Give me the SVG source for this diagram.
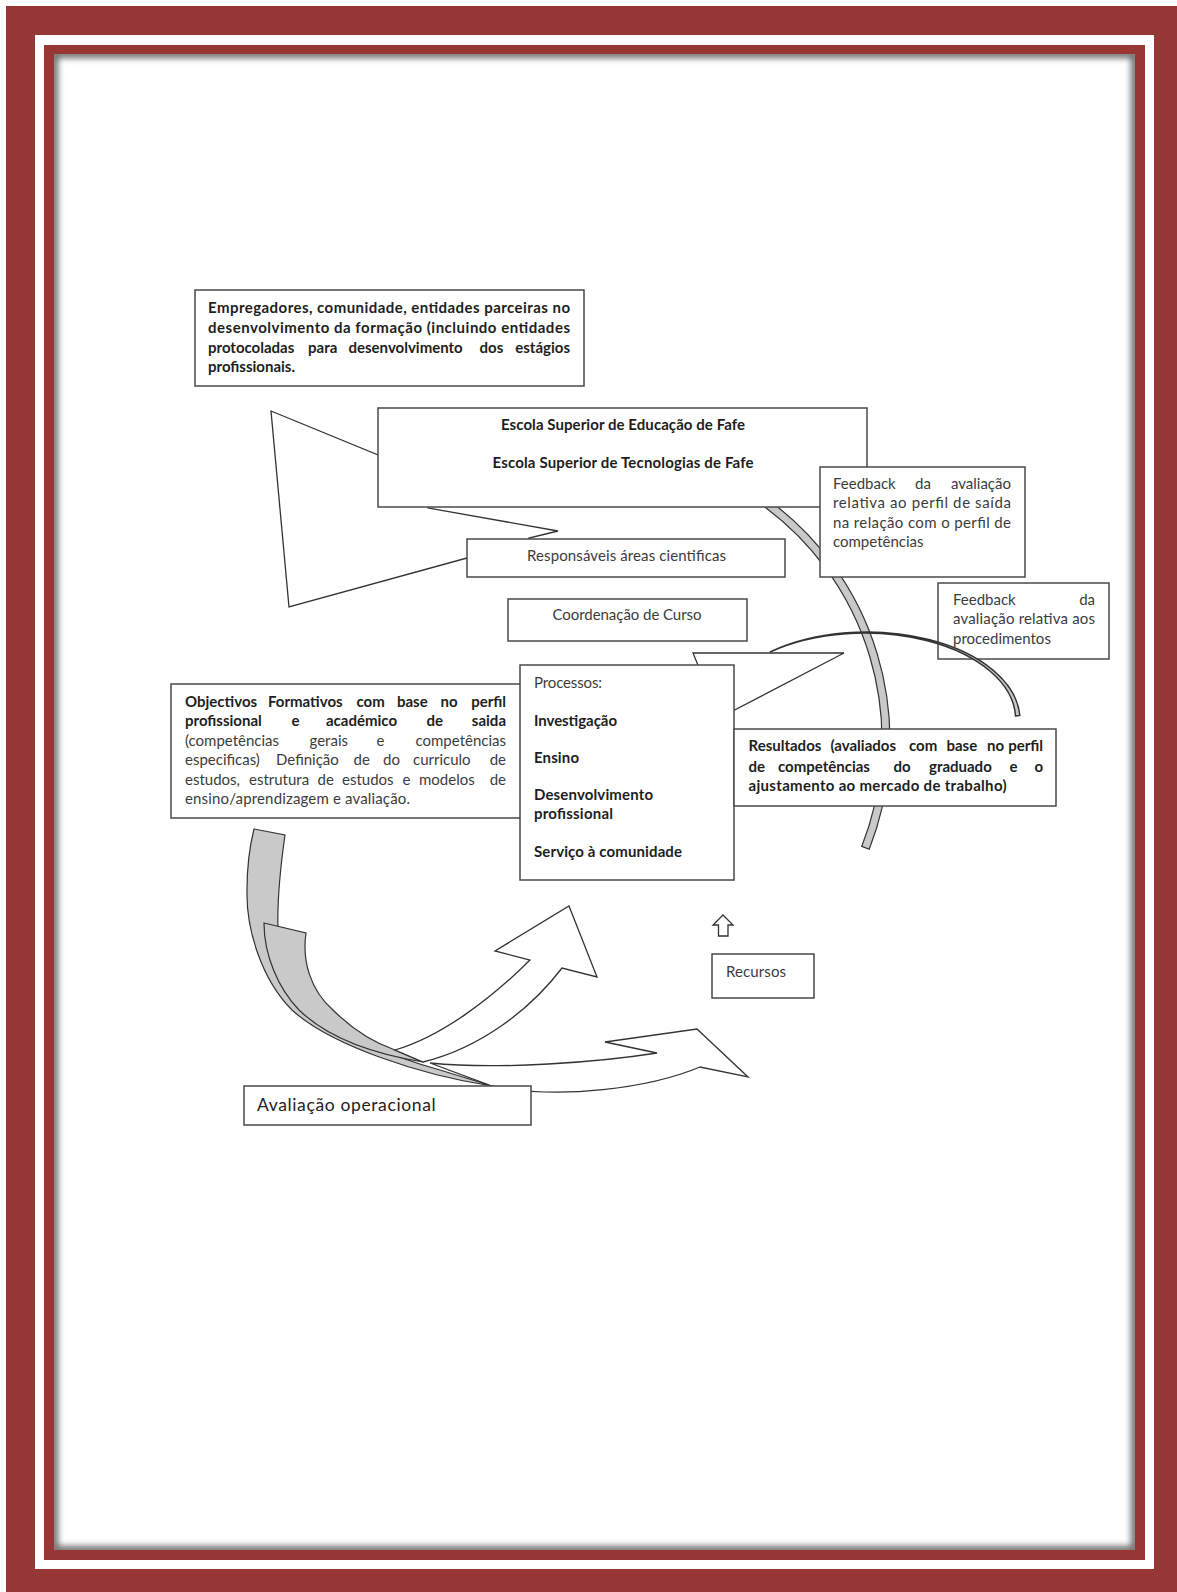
<svg xmlns="http://www.w3.org/2000/svg" width="1177" height="1592" viewBox="0 0 1177 1592">
<style>
.box{fill:#fff;stroke:#4a4a4a;stroke-width:1.5}
.ln{fill:#fff;stroke:#333;stroke-width:1.3;stroke-linejoin:miter}
.gb{fill:#c9c9c9;stroke:#333;stroke-width:1.2}
.b{font-family:Lato,"Liberation Sans",sans-serif;font-size:15px;font-weight:bold;fill:#1e1e1e}
.n{font-family:Lato,"Liberation Sans",sans-serif;font-size:15px;fill:#3c3c3c}
.e{text-anchor:end}
</style>
<defs>
<clipPath id="inner"><rect x="54" y="54" width="1081" height="1496"/></clipPath>
<filter id="blur" x="-5%" y="-5%" width="110%" height="110%"><feGaussianBlur stdDeviation="3"/></filter>
</defs>
<g id="frame">
<rect x="6" y="6" width="1171" height="1586" fill="#963635"/>
<rect x="35" y="35" width="1119" height="1534" fill="#fff"/>
<rect x="44" y="45" width="1101" height="1515" fill="#963635"/>
<rect x="54" y="54" width="1081" height="1496" fill="#fff"/>
<g clip-path="url(#inner)"><rect x="54" y="54" width="1081" height="1496" fill="none" stroke="#6a6a6a" stroke-width="8" filter="url(#blur)"/></g>
</g>
<g id="connectors">
<polygon class="ln" points="271,411 400,464 428,508 558,531 529,538 530,545 467,558 289,607"/>
<path class="gb" d="M763,496 A298,298 0 0 1 869.2,849.2 L861.8,846.3 A290,290 0 0 0 758.5,502.5 Z"/>
</g>
<g id="escola">
<rect class="box" x="378" y="408" width="489" height="99"/>
<text class="b" x="623" y="430" text-anchor="middle" textLength="244">Escola Superior de Educação de Fafe</text>
<text class="b" x="623" y="468" text-anchor="middle" textLength="261">Escola Superior de Tecnologias de Fafe</text>
</g>
<g id="empregadores">
<rect class="box" x="195" y="290" width="389" height="96"/>
<text class="b" x="208" y="313" textLength="362">Empregadores, comunidade, entidades parceiras no</text>
<text class="b" x="208" y="333" textLength="362">desenvolvimento da formação (incluindo entidades</text>
<text class="b" y="352.5"><tspan x="208">protocoladas</tspan><tspan x="308">para</tspan><tspan x="348.5">desenvolvimento</tspan><tspan x="479.5">dos</tspan></text>
<text class="b e" x="570" y="352.5">estágios</text>
<text class="b" x="208" y="372">profissionais.</text>
</g>
<g id="responsaveis">
<rect class="box" x="467" y="539" width="318" height="38"/>
<text class="n" x="626.5" y="561" text-anchor="middle" textLength="199">Responsáveis áreas cientificas</text>
</g>
<g id="coordenacao">
<rect class="box" x="508" y="599" width="239" height="42"/>
<text class="n" x="627" y="620" text-anchor="middle" textLength="149">Coordenação de Curso</text>
</g>
<g id="feedback1">
<rect class="box" x="820" y="467" width="205" height="110"/>
<text class="n" y="488.5"><tspan x="833">Feedback</tspan><tspan x="915">da</tspan></text>
<text class="n e" x="1011" y="488.5">avaliação</text>
<text class="n" x="833" y="508" textLength="178">relativa ao perfil de saída</text>
<text class="n" x="833" y="527.5" textLength="178">na relação com o perfil de</text>
<text class="n" x="833" y="547">competências</text>
</g>
<g id="pointer">
<polygon class="ln" points="693,653 844,653 700,728 702,675"/>
</g>
<g id="objectivos">
<rect class="box" x="171" y="684" width="350" height="134"/>
<text class="b" y="706.5"><tspan x="185">Objectivos</tspan><tspan x="268">Formativos</tspan><tspan x="356.5">com</tspan><tspan x="397">base</tspan><tspan x="440.5">no</tspan></text>
<text class="b e" x="506" y="706.5">perfil</text>
<text class="b" y="725.5"><tspan x="185">profissional</tspan><tspan x="291.5">e</tspan><tspan x="326">académico</tspan><tspan x="426.5">de</tspan></text>
<text class="b e" x="506" y="725.5">saida</text>
<text class="n" y="745.5"><tspan x="185">(competências</tspan><tspan x="309.5">gerais</tspan><tspan x="376.5">e</tspan></text>
<text class="n e" x="506" y="745.5">competências</text>
<text class="n" y="764.5"><tspan x="185">especificas)</tspan><tspan x="276">Definição</tspan><tspan x="353.5">de</tspan><tspan x="383">do</tspan><tspan x="413">curriculo</tspan></text>
<text class="n e" x="506" y="764.5">de</text>
<text class="n" y="784.5"><tspan x="185">estudos,</tspan><tspan x="249">estrutura</tspan><tspan x="317.5">de</tspan><tspan x="342">estudos</tspan><tspan x="402.5">e</tspan><tspan x="419">modelos</tspan></text>
<text class="n e" x="506" y="784.5">de</text>
<text class="n" x="185" y="803.5" textLength="225">ensino/aprendizagem e avaliação.</text>
</g>
<g id="processos">
<rect class="box" x="520" y="665" width="214" height="215"/>
<text class="n" x="534" y="688" textLength="68">Processos:</text>
<text class="b" x="534" y="726" textLength="83">Investigação</text>
<text class="b" x="534" y="762.5" textLength="45">Ensino</text>
<text class="b" x="534" y="800" textLength="119">Desenvolvimento</text>
<text class="b" x="534" y="819" textLength="79">profissional</text>
<text class="b" x="534" y="857" textLength="148">Serviço à comunidade</text>
</g>
<g id="resultados">
<rect class="box" x="734" y="729" width="322" height="77"/>
<text class="b" y="751"><tspan x="748.5">Resultados</tspan><tspan x="830.5">(avaliados</tspan><tspan x="909">com</tspan><tspan x="946.5">base</tspan><tspan x="987">no</tspan></text>
<text class="b e" x="1043" y="751">perfil</text>
<text class="b" y="771.5"><tspan x="748.5">de</tspan><tspan x="778">competências</tspan><tspan x="893.5">do</tspan><tspan x="929">graduado</tspan><tspan x="1009.5">e</tspan></text>
<text class="b e" x="1043" y="771.5">o</text>
<text class="b" x="748.5" y="790.5" textLength="258">ajustamento ao mercado de trabalho)</text>
</g>
<g id="feedback2">
<rect class="box" x="938" y="583" width="171" height="76"/>
<text class="n" x="953" y="604.5">Feedback</text>
<text class="n e" x="1095" y="604.5">da</text>
<text class="n" x="953" y="624" textLength="142">avaliação relativa aos</text>
<text class="n" x="953" y="644">procedimentos</text>
</g>
<g id="arc-feedback">
<path class="gb" d="M770,652 A153,88 0 0 1 1019.8,715.4 L1015.5,716 A151,86 0 0 0 770,652 Z" style="stroke-width:1.5"/>
</g>
<g id="arrows-bottom">
<path class="gb" d="M254,829 L285,835 C280,870 277,900 278,930 C282,990 330,1040 440,1070 L492,1086 C420,1075 330,1045 292,1010 C262,980 246,930 247,890 C247,865 250,845 254,829 Z"/>
<path class="ln" d="M430,1063 C500,1070 600,1062 657,1053 L605,1042 L697,1029 L748,1077 L700,1067 C650,1088 560,1100 492,1086 Z"/>
<path class="gb" d="M264,923 L306,933 C302,960 310,990 333,1010 C350,1027 372,1042 395,1050 L423,1062 C380,1055 330,1040 299,1010 C278,988 264,955 264,923 Z"/>
<path class="ln" d="M395,1050 C440,1037 490,1000 530,960 L495,951 L569,906 L597,977 L562,968 C530,1010 480,1048 423,1062 Z"/>
</g>
<g id="avaliacao">
<rect class="box" x="244" y="1086" width="287" height="39"/>
<text x="257" y="1111" style="font-family:Lato,'Liberation Sans',sans-serif;font-size:17.5px;fill:#222" textLength="178.6">Avaliação operacional</text>
</g>
<g id="recursos">
<polygon class="ln" points="723,915 733,925 728,925 728,936 718.5,936 718.5,925 713,925"/>
<rect class="box" x="712" y="954" width="102" height="44"/>
<text class="n" x="726" y="976.5" textLength="60">Recursos</text>
</g>
</svg>
